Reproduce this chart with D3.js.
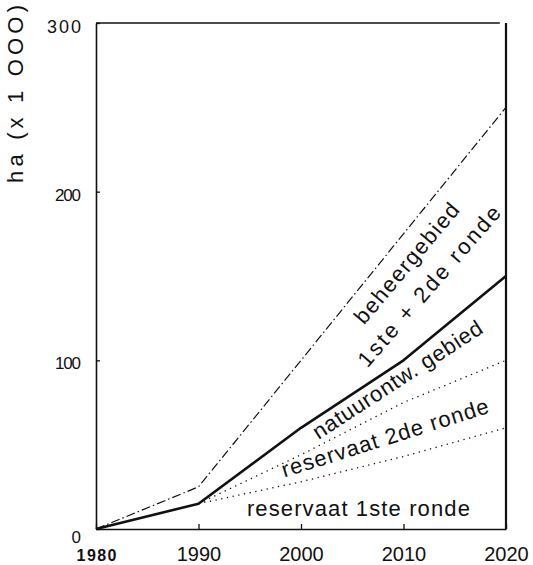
<!DOCTYPE html>
<html>
<head>
<meta charset="utf-8">
<script src="https://cdn.jsdelivr.net/npm/d3@7"></script>
<style>
  body { margin: 0; background: #fff; }
  svg { display: block; }
  text { font-family: "Liberation Sans", Arial, sans-serif; fill: #111; }
</style>
</head>
<body>
<div id="chart"></div>
<script>
// data (ha x 1000)
var years = [1980, 1990, 2000, 2010, 2020];
var beheergebied = [0, 25, 100, 175, 250];
var natuurTotaal = [0, 15, 60, 100, 150];
var reservaatBeide = [null, 15, 44, 75, 100];
var reservaat1ste = [null, 15, 28, 43, 60];
var xTicks = [1980, 1990, 2000, 2010, 2020];
var yTicks = [0, 100, 200, 300];
var yTitle = "ha (x 1 OOO)";

var labelTexts = ["beheergebied", "1ste + 2de ronde", "natuurontw. gebied", "reservaat 2de ronde", "reservaat 1ste ronde"];
// where each label sits, in data units, plus angle and length
var labelPlace = [
    { year: 2010.3, val: 157.5, angle: -50, len: 150 },
    { year: 2012.5, val: 144, angle: -49, len: 205 },
    { year: 2009.4, val: 88.5, angle: -33, len: 198 },
    { year: 2008.2, val: 54, angle: -17.5, len: 216 },
    { year: 2005.6, val: 12, angle: 0, len: 223 }
];

var width = 533, height = 565;

var x = d3.scaleLinear().domain([1980, 2020]).range([96, 506]);
var y = d3.scaleLinear().domain([0, 300]).range([529, 23]);

var svg = d3.select("#chart").append("svg")
    .attr("width", width)
    .attr("height", height);

// frame: top and right lines
svg.append("line")
    .attr("x1", x(1980)).attr("x2", x(2019.4))
    .attr("y1", y(300)).attr("y2", y(300))
    .attr("stroke", "#111").attr("stroke-width", 1.3);
svg.append("line")
    .attr("x1", x(2020)).attr("x2", x(2020))
    .attr("y1", y(300)).attr("y2", y(0))
    .attr("stroke", "#111").attr("stroke-width", 2.2);

// x axis, ticks pointing inward
var xAxis = svg.append("g")
    .attr("transform", "translate(0," + y(0) + ")")
    .call(d3.axisBottom(x).tickValues(xTicks).tickFormat(d3.format("d"))
        .tickSizeInner(-5).tickSizeOuter(0).tickPadding(18));
xAxis.select(".domain").attr("stroke", "#111").attr("stroke-width", 1.6);
xAxis.selectAll(".tick line").attr("stroke", "#111").attr("stroke-width", 1.3);
xAxis.selectAll(".tick text")
    .style("font-family", "'Liberation Sans', Arial, sans-serif")
    .style("font-size", "20px")
    .attr("fill", "#111");
xAxis.selectAll(".tick")
    .filter(function (d) { return d === 1980; })
    .select("text")
    .style("font-weight", "bold")
    .style("font-size", "16px")
    .attr("y", 21)
    .attr("textLength", 40);

// y axis
var yAxis = svg.append("g")
    .attr("transform", "translate(" + x(1980) + ",0)")
    .call(d3.axisLeft(y).tickValues(yTicks)
        .tickSizeInner(-4).tickSizeOuter(0).tickPadding(15));
yAxis.select(".domain").attr("stroke", "#111").attr("stroke-width", 1.6);
yAxis.selectAll(".tick line").attr("stroke", "#111").attr("stroke-width", 1.3);
yAxis.selectAll(".tick text")
    .style("font-family", "'Liberation Sans', Arial, sans-serif")
    .style("font-size", "17px")
    .attr("fill", "#111")
    .attr("dy", "0.5em");
yAxis.selectAll(".tick")
    .filter(function (d) { return d === 100 || d === 200; })
    .select("text")
    .attr("textLength", 26);
yAxis.selectAll(".tick")
    .filter(function (d) { return d === 300; })
    .select("text")
    .style("font-size", "18px")
    .attr("textLength", 34);
yAxis.selectAll(".tick")
    .filter(function (d) { return d === 0; })
    .select("text")
    .attr("dy", "0.8em");

// y axis title
svg.append("text")
    .attr("transform", "translate(15,94) rotate(-90)")
    .attr("text-anchor", "middle")
    .attr("dominant-baseline", "central")
    .style("font-size", "22px")
    .attr("textLength", 178)
    .text(yTitle);

// lines
function seriesLine(values) {
    return d3.line()
        .defined(function (d, i) { return values[i] !== null; })
        .x(function (d, i) { return x(years[i]); })
        .y(function (d, i) { return y(values[i]); })(years);
}

svg.append("path")
    .attr("d", seriesLine(beheergebied))
    .attr("fill", "none")
    .attr("stroke", "#111")
    .attr("stroke-width", 1.2)
    .attr("stroke-dasharray", "9,3,1.5,3");

svg.append("path")
    .attr("d", seriesLine(reservaatBeide))
    .attr("fill", "none")
    .attr("stroke", "#111")
    .attr("stroke-width", 1.3)
    .attr("stroke-dasharray", "1.3,4.5");

svg.append("path")
    .attr("d", seriesLine(reservaat1ste))
    .attr("fill", "none")
    .attr("stroke", "#111")
    .attr("stroke-width", 1.3)
    .attr("stroke-dasharray", "1.3,4.5");

svg.append("path")
    .attr("d", seriesLine(natuurTotaal))
    .attr("fill", "none")
    .attr("stroke", "#111")
    .attr("stroke-width", 2.6)
    .attr("stroke-linejoin", "round");

// in-plot labels
svg.selectAll(".lbl")
    .data(labelTexts)
    .enter().append("text")
    .attr("class", "lbl")
    .attr("transform", function (d, i) {
        var p = labelPlace[i];
        return "translate(" + x(p.year) + "," + y(p.val) + ") rotate(" + p.angle + ")";
    })
    .attr("text-anchor", "middle")
    .attr("dominant-baseline", "central")
    .style("font-size", "22px")
    .attr("textLength", function (d, i) { return labelPlace[i].len; })
    .attr("lengthAdjust", "spacing")
    .text(function (d) { return d; });
</script>
</body>
</html>
